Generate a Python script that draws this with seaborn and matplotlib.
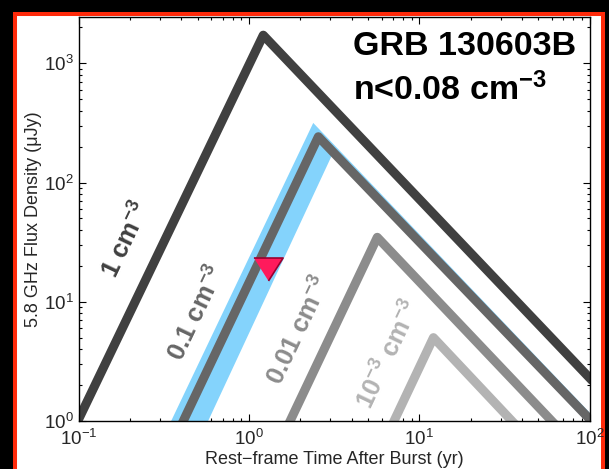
import numpy as np
import pandas as pd
import seaborn as sns
import matplotlib.pyplot as plt
from matplotlib.patches import Rectangle

# light curves: start, peak, end (yr, uJy)
t_n1 = [0.1, 1.21, 100]
f_n1 = [1.05, 1720, 2.3]
t_n01 = [0.41, 2.55, 100]
f_n01 = [1.0, 242, 1.04]
t_n001 = [1.74, 5.66, 60]
f_n001 = [1.0, 34.7, 1.0]
t_n0001 = [7.1, 12.1, 35]
f_n0001 = [1.0, 5.0, 1.0]

densities = ['1', '0.1', '0.01', '0.001']
line_colors = ['#404040', '#666666', '#8c8c8c', '#b3b3b3']

# allowed region (blue band) around the 0.1 cm^-3 model
band_t = [0.348, 2.38, 100, 100, 3.08, 0.574]
band_f = [1.0, 316, 1.18, 0.93, 172, 1.0]

# upper limit
lim_t = [1.29]
lim_f = [19.0]

# curve labels
label_text = [r'1 cm$^{\mathbf{-3}}$', r'0.1 cm$^{\mathbf{-3}}$',
              r'0.01 cm$^{\mathbf{-3}}$', r'10$^{\mathbf{-3}}$ cm$^{\mathbf{-3}}$']
label_t = [0.191, 0.494, 1.96, 6.64]
label_f = [33, 8.06, 5.69, 3.58]

sns.set_theme(style='ticks')
plt.rcParams['font.family'] = ['Liberation Sans', 'DejaVu Sans']
plt.rcParams['mathtext.fontset'] = 'custom'
plt.rcParams['mathtext.rm'] = 'Liberation Sans'
plt.rcParams['mathtext.bf'] = 'Liberation Sans:bold'
plt.rcParams['mathtext.it'] = 'Liberation Sans:italic'

df = pd.concat([
    pd.DataFrame({'time': t, 'flux': f, 'density': d})
    for t, f, d in zip([t_n1, t_n01, t_n001, t_n0001],
                       [f_n1, f_n01, f_n001, f_n0001], densities)
])

fig = plt.figure(figsize=(6.09, 4.69), dpi=100)
fig.patch.set_facecolor('black')
# red frame around the white panel
fig.patches.append(Rectangle((15 / 609, -0.05), (603 - 15) / 609, 0.05 + 1 - 14.3 / 469,
                             transform=fig.transFigure, facecolor='white',
                             edgecolor='#ff2a0a', linewidth=2.9, zorder=-10))

ax = fig.add_axes([79 / 609, 48 / 469, 510.5 / 609, 403.5 / 469])
ax.set_zorder(1)
ax.set_facecolor('white')
ax.set_xscale('log')
ax.set_yscale('log')

ax.fill(band_t, band_f, color='#84d3fc', lw=0, zorder=1)

sns.lineplot(data=df, x='time', y='flux', hue='density', hue_order=densities,
             palette=line_colors, linewidth=6.5, sort=False, estimator=None,
             legend=False, ax=ax, solid_capstyle='projecting', solid_joinstyle='round')

sns.scatterplot(x=lim_t, y=lim_f, marker=[(-1.27, 1), (1.27, 1), (0, -1)], s=21 ** 2,
                color='#ff1a5c', edgecolor='#99002e', linewidth=1.2, zorder=5, ax=ax)

for txt, tx, fy, c in zip(label_text, label_t, label_f, line_colors):
    ax.text(tx, fy, txt, rotation=64.6, rotation_mode='anchor', ha='center', va='center',
            fontsize=18.5, fontweight='bold', color=c)

ax.set_xlim(0.1, 100)
ax.set_ylim(1, 2420)
ax.set_xlabel('Rest\u2212frame Time After Burst (yr)', fontsize=13, labelpad=1)
ax.set_ylabel('5.8 GHz Flux Density (\u03bcJy)', fontsize=13, labelpad=2)
ax.tick_params(which='both', direction='in', top=True, right=True, labelsize=13.5,
               color='black', width=0.8)
ax.tick_params(axis='x', which='major', pad=6)
ax.tick_params(which='major', length=5)
ax.tick_params(which='minor', length=2.5)
for s in ax.spines.values():
    s.set_linewidth(1.0)
    s.set_color('black')

fig.text(353 / 609, 1 - 55 / 469, 'GRB 130603B', fontsize=24.5, fontweight='bold',
         ha='left', va='baseline', color='black', zorder=5)
fig.text(353 / 609, 1 - 100 / 469, r'n<0.08 cm$^{\mathbf{-3}}$', fontsize=24.5,
         fontweight='bold', ha='left', va='baseline', color='black', zorder=5)

fig.savefig('out.png', dpi=100, facecolor=fig.get_facecolor())
